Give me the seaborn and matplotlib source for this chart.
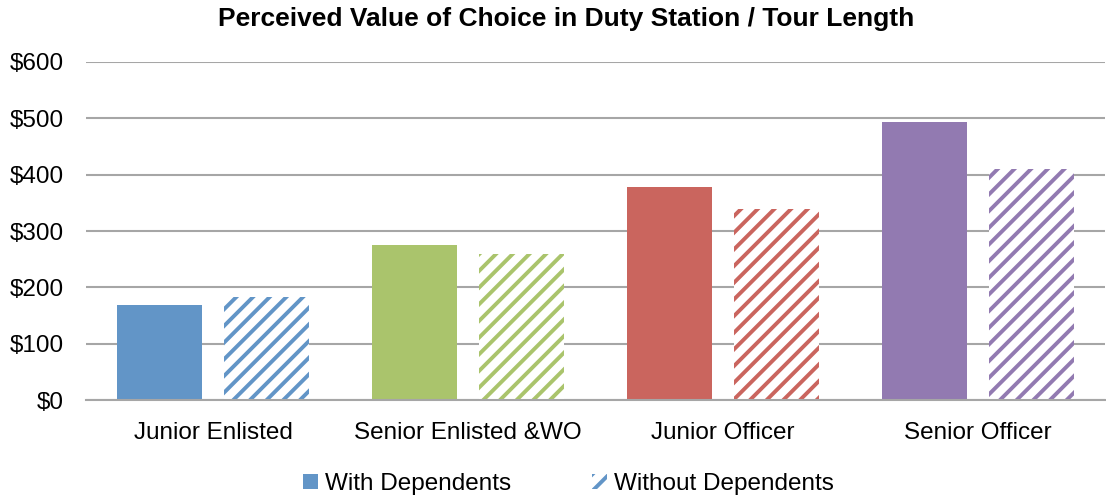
import matplotlib
matplotlib.use("Agg")
import matplotlib.pyplot as plt
from matplotlib.patches import Patch
import seaborn as sns
import pandas as pd

# Monthly perceived value (USD) by grade group
categories = ["Junior Enlisted", "Senior Enlisted &WO", "Junior Officer", "Senior Officer"]
with_dependents = [168, 275, 378, 493]
without_dependents = [182, 259, 339, 410]
series_names = ["With Dependents", "Without Dependents"]
y_ticks = [0, 100, 200, 300, 400, 500, 600]
title = "Perceived Value of Choice in Duty Station / Tour Length"

group_colors = ["#6295C7", "#AAC46C", "#CA655E", "#927AB1"]

df = pd.DataFrame({
    "group": categories * 2,
    "value": with_dependents + without_dependents,
    "series": [series_names[0]] * len(categories) + [series_names[1]] * len(categories),
})

sns.set_theme(style="white")
plt.rcParams["font.family"] = ["Liberation Sans", "DejaVu Sans"]
plt.rcParams["hatch.linewidth"] = 2.8
plt.rcParams["text.color"] = "#000000"

fig = plt.figure(figsize=(11.06, 4.98), dpi=100)
ax = fig.add_axes([86 / 1106, 98 / 498, 1019 / 1106, 338 / 498])

sns.barplot(data=df, x="group", y="value", hue="series", order=categories,
            hue_order=series_names, width=0.84, gap=0.207, ax=ax,
            legend=False, errorbar=None, linewidth=0)

# Solid fill for the first series, diagonal stripes for the second
for bar, color in zip(ax.containers[0], group_colors):
    bar.set_facecolor(color)
    bar.set_edgecolor(color)
    bar.set_linewidth(0)
for bar, color in zip(ax.containers[1], group_colors):
    bar.set_facecolor("white")
    bar.set_edgecolor(color)
    bar.set_hatch("//")
    bar.set_linewidth(0)

ax.set_ylim(0, 600)
ax.set_xlim(-0.5, len(categories) - 0.5)
ax.set_yticks(y_ticks)
ax.set_yticklabels([f"${v}" for v in y_ticks])
ax.yaxis.grid(True, color="#A6A6A6", linewidth=1.5)
ax.set_axisbelow(True)
for side in ["left", "right", "top"]:
    ax.spines[side].set_visible(False)
ax.spines["bottom"].set_color("#A6A6A6")
ax.spines["bottom"].set_linewidth(1.5)
ax.tick_params(axis="y", length=0, pad=16, labelsize=17.5, labelcolor="#000000")
ax.tick_params(axis="x", length=0, pad=15.5, labelsize=17.5, labelcolor="#000000")
ax.set_xlabel("")
ax.set_ylabel("")

fig.text(0.512, 1 - 19 / 498, title, ha="center", va="center",
         fontsize=19, fontweight="bold", color="#000000")

handles = [
    Patch(facecolor=group_colors[0], edgecolor=group_colors[0], linewidth=0),
    Patch(facecolor="white", edgecolor=group_colors[0], hatch="//", linewidth=0),
]
leg = fig.legend(handles, series_names, loc="center", bbox_to_anchor=(0.514, 1 - 484 / 498),
                 ncol=2, frameon=False, fontsize=17.5, handlelength=0.62, handleheight=0.62,
                 handletextpad=0.29, columnspacing=3.3, borderaxespad=0)
for t in leg.get_texts():
    t.set_color("#000000")

fig.savefig("out.png", dpi=100)
